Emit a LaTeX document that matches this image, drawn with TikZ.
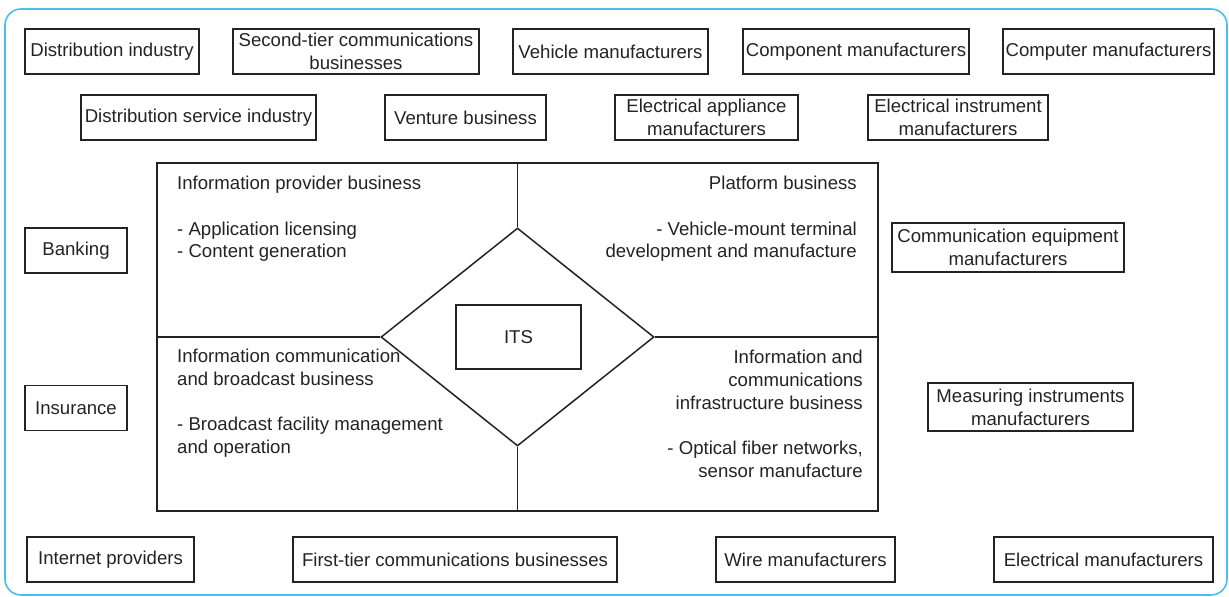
\documentclass[tikz,border=0pt]{standalone}
\usepackage{fontspec}
\setmainfont{Liberation Sans}
\usetikzlibrary{shapes.geometric}
\definecolor{framecyan}{RGB}{75,190,235}
\definecolor{inkgray}{RGB}{35,35,35}

\begin{document}
\begin{tikzpicture}[x=1pt,y=-1pt,
  every node/.append style={font=\fontsize{18.6}{22.7}\selectfont, text=inkgray},
  orgbox/.style={draw=inkgray, line width=1.3pt, minimum height=45pt, inner sep=0pt, align=center},
  quadtext/.style={inner sep=0pt}]
\useasboundingbox (0,0) rectangle (1229,597);
\draw[framecyan, line width=1.6pt, rounded corners=16pt] (5,9) rectangle (1227,595);

%Nodes
\node[orgbox, minimum width=174pt] (nodeDistInd) at (112,51.5) {Distribution industry};
\node[orgbox, minimum width=246pt] (nodeSecondTier) at (356,51.5) {Second-tier communications\\businesses};
\node[orgbox, minimum width=195pt] (nodeVehicle) at (610.5,51.5) {Vehicle manufacturers};
\node[orgbox, minimum width=226pt] (nodeComponent) at (856,51.5) {Component manufacturers};
\node[orgbox, minimum width=211pt] (nodeComputer) at (1108.5,51.5) {Computer manufacturers};

\node[orgbox, minimum width=235pt] (nodeDistServ) at (198.5,117.5) {Distribution service industry};
\node[orgbox, minimum width=161pt] (nodeVenture) at (465.5,117.5) {Venture business};
\node[orgbox, minimum width=183pt] (nodeAppliance) at (706.5,117.5) {Electrical appliance\\manufacturers};
\node[orgbox, minimum width=180pt] (nodeInstrument) at (958,117.5) {Electrical instrument\\manufacturers};

\node[orgbox, minimum width=102pt] (nodeBanking) at (76,250.5) {Banking};
\node[orgbox, minimum width=102pt] (nodeInsurance) at (76,408) {Insurance};
\node[orgbox, minimum width=232pt, minimum height=49pt] (nodeCommEquip) at (1008,247.5) {Communication equipment\\manufacturers};
\node[orgbox, minimum width=205pt, minimum height=48pt] (nodeMeasuring) at (1030.5,407) {Measuring instruments\\manufacturers};

\node[orgbox, minimum width=167pt] (nodeInternet) at (110.5,559.5) {Internet providers};
\node[orgbox, minimum width=324pt] (nodeFirstTier) at (455,559.5) {First-tier communications businesses};
\node[orgbox, minimum width=179pt] (nodeWire) at (805.5,559.5) {Wire manufacturers};
\node[orgbox, minimum width=219pt] (nodeElectrical) at (1103.5,559.5) {Electrical manufacturers};

\node[draw=inkgray, line width=2.5pt, minimum width=721pt, minimum height=348pt, inner sep=0pt] (nodeCore) at (517.5,337) {};
\node[draw=inkgray, line width=1.5pt, diamond, minimum width=273pt, minimum height=218pt, inner sep=0pt] (nodeDiamond) at (517.5,337) {};
\node[orgbox, minimum width=125pt, minimum height=64pt] (nodeITS) at (518.5,337) {ITS};

\node[quadtext, anchor=north west, align=left] (nodeProvider) at (177,176)
  {Information provider business\\[22.7pt]- Application licensing\\- Content generation};
\node[quadtext, anchor=north east, align=right] (nodePlatform) at (857,176)
  {Platform business\\[22.7pt]- Vehicle-mount terminal\\development and manufacture};
\node[quadtext, anchor=north west, align=left] (nodeBroadcast) at (177,349)
  {Information communication\\and broadcast business\\[22.7pt]- Broadcast facility management\\and operation};
\node[quadtext, anchor=north east, align=right] (nodeInfra) at (863,350)
  {Information and\\communications\\infrastructure business\\[22.7pt]- Optical fiber networks,\\sensor manufacture};

%Lines
\draw[inkgray, line width=1.5pt] (nodeCore.north) -- (nodeDiamond.north);
\draw[inkgray, line width=1.5pt] (nodeCore.south) -- (nodeDiamond.south);
\draw[inkgray, line width=1.5pt] (nodeCore.west) -- (nodeDiamond.west);
\draw[inkgray, line width=1.5pt] (nodeCore.east) -- (nodeDiamond.east);
\end{tikzpicture}
\end{document}
